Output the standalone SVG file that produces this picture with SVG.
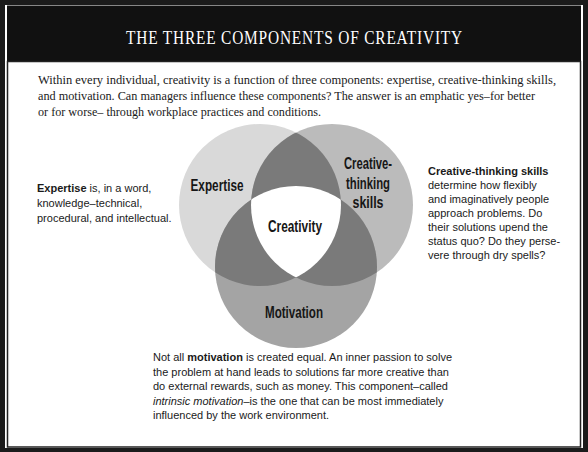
<svg xmlns="http://www.w3.org/2000/svg" width="588" height="452" viewBox="0 0 588 452">
<style>
.body{font-family:"Liberation Sans",Arial,sans-serif;font-size:11px;fill:#1a1a1a}
.intro{font-family:"Liberation Serif","Times New Roman",serif;font-size:12.5px;fill:#1a1a1a}
.lbl{font-family:"Liberation Sans",Arial,sans-serif;font-size:16px;font-weight:bold;fill:#161616;text-anchor:middle}
.b{font-weight:bold}
.i{font-style:italic}
</style>
<defs>
<clipPath id="cE"><circle cx="260" cy="205" r="81"/></clipPath>
<clipPath id="cC"><circle cx="332" cy="205" r="81"/></clipPath>
</defs>
<rect x="0" y="0" width="588" height="452" fill="#1b1b1b"/>
<rect x="5" y="5" width="578" height="443" fill="#ffffff"/>
<rect x="7" y="5.5" width="574" height="56" fill="#111111"/>
<rect x="7.5" y="61.5" width="573" height="385.5" fill="#ffffff" stroke="#222222" stroke-width="1.5"/>
<text x="294.5" y="44" text-anchor="middle" font-family="'Liberation Serif','Times New Roman',serif" font-size="19" fill="#ffffff" letter-spacing="1" textLength="337" lengthAdjust="spacingAndGlyphs">THE THREE COMPONENTS OF CREATIVITY</text>
<g id="intro">
<text class="intro" x="38" y="84" textLength="518" lengthAdjust="spacingAndGlyphs">Within every individual, creativity is a function of three components: expertise, creative-thinking skills,</text>
<text class="intro" x="38" y="100" textLength="497" lengthAdjust="spacingAndGlyphs">and motivation. Can managers influence these components? The answer is an emphatic yes–for better</text>
<text class="intro" x="38" y="116" textLength="283" lengthAdjust="spacingAndGlyphs">or for worse– through workplace practices and conditions.</text>
</g>
<g id="venn">
<g id="expertise"><circle cx="260" cy="205" r="81" fill="#d9d9d9"/></g>
<g id="creative-thinking"><circle cx="332" cy="205" r="81" fill="#bbbbbb"/></g>
<g id="motivation"><circle cx="296" cy="267" r="81" fill="#a4a4a4"/></g>
<g id="overlaps" fill="#7a7a7a">
<circle cx="332" cy="205" r="81" clip-path="url(#cE)"/>
<circle cx="296" cy="267" r="81" clip-path="url(#cE)"/>
<circle cx="296" cy="267" r="81" clip-path="url(#cC)"/>
</g>
<g id="creativity" clip-path="url(#cE)"><g clip-path="url(#cC)"><circle cx="296" cy="267" r="81" fill="#ffffff"/></g></g>
<text class="lbl" x="217" y="191" textLength="53" lengthAdjust="spacingAndGlyphs">Expertise</text>
<text class="lbl" x="368" y="169" textLength="48" lengthAdjust="spacingAndGlyphs">Creative-</text>
<text class="lbl" x="368" y="189" textLength="44" lengthAdjust="spacingAndGlyphs">thinking</text>
<text class="lbl" x="368" y="208" textLength="31" lengthAdjust="spacingAndGlyphs">skills</text>
<text class="lbl" x="295" y="232" textLength="54" lengthAdjust="spacingAndGlyphs">Creativity</text>
<text class="lbl" x="294" y="318" textLength="58" lengthAdjust="spacingAndGlyphs">Motivation</text>
</g>
<g id="expertise-note">
<text class="body" x="37" y="192"><tspan class="b">Expertise</tspan> is, in a word,</text>
<text class="body" x="37" y="207">knowledge–technical,</text>
<text class="body" x="37" y="222">procedural, and intellectual.</text>
</g>
<g id="creative-note">
<text class="body b" x="428" y="175">Creative-thinking skills</text>
<text class="body" x="428" y="189">determine how flexibly</text>
<text class="body" x="428" y="203">and imaginatively people</text>
<text class="body" x="428" y="217">approach problems. Do</text>
<text class="body" x="428" y="231">their solutions upend the</text>
<text class="body" x="428" y="245">status quo? Do they perse-</text>
<text class="body" x="428" y="259">vere through dry spells?</text>
</g>
<g id="motivation-note">
<text class="body" x="153" y="361">Not all <tspan class="b">motivation</tspan> is created equal. An inner passion to solve</text>
<text class="body" x="153" y="375.5">the problem at hand leads to solutions far more creative than</text>
<text class="body" x="153" y="390">do external rewards, such as money. This component–called</text>
<text class="body" x="153" y="404.5"><tspan class="i">intrinsic motivation</tspan>–is the one that can be most immediately</text>
<text class="body" x="153" y="419">influenced by the work environment.</text>
</g>
</svg>
